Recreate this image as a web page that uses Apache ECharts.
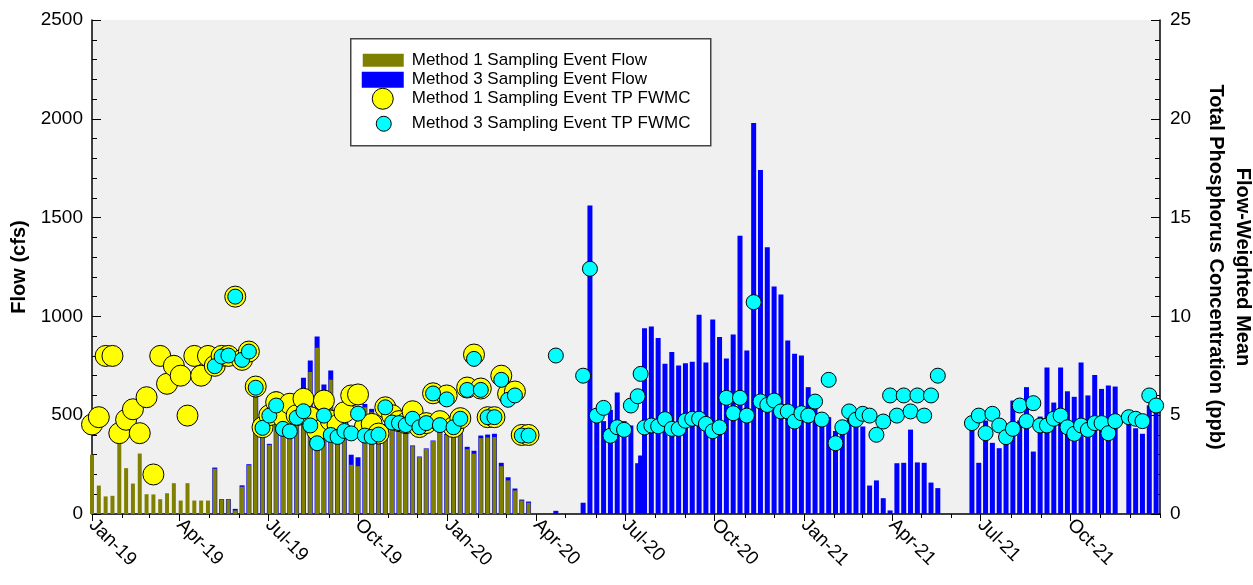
<!DOCTYPE html>
<html>
<head>
<meta charset="utf-8">
<script src="https://cdn.jsdelivr.net/npm/echarts@6/dist/echarts.min.js"></script>
<style>
  html, body { margin: 0; padding: 0; background: #ffffff; }
  #chart { width: 1253px; height: 585px; }
</style>
</head>
<body>
<div id="chart"></div>
<script>
// ---- weekly sampling event dates ----
const weeks = [
  '2019-01-01','2019-01-08','2019-01-15','2019-01-22','2019-01-29','2019-02-05','2019-02-12','2019-02-19','2019-02-26','2019-03-05',
  '2019-03-12','2019-03-19','2019-03-26','2019-04-02','2019-04-09','2019-04-16','2019-04-23','2019-04-30','2019-05-07','2019-05-14',
  '2019-05-21','2019-05-28','2019-06-04','2019-06-11','2019-06-18','2019-06-25','2019-07-02','2019-07-09','2019-07-16','2019-07-23',
  '2019-07-30','2019-08-06','2019-08-13','2019-08-20','2019-08-27','2019-09-03','2019-09-10','2019-09-17','2019-09-24','2019-10-01',
  '2019-10-08','2019-10-15','2019-10-22','2019-10-29','2019-11-05','2019-11-12','2019-11-19','2019-11-26','2019-12-03','2019-12-10',
  '2019-12-17','2019-12-24','2019-12-31','2020-01-07','2020-01-14','2020-01-21','2020-01-28','2020-02-04','2020-02-11','2020-02-18',
  '2020-02-25','2020-03-03','2020-03-10','2020-03-17','2020-03-24','2020-03-31','2020-04-07','2020-04-14','2020-04-21','2020-04-28',
  '2020-05-05','2020-05-12','2020-05-19','2020-05-26','2020-06-02','2020-06-09','2020-06-16','2020-06-23','2020-06-30','2020-07-07',
  '2020-07-14','2020-07-21','2020-07-28','2020-08-04','2020-08-11','2020-08-18','2020-08-25','2020-09-01','2020-09-08','2020-09-15',
  '2020-09-22','2020-09-29','2020-10-06','2020-10-13','2020-10-20','2020-10-27','2020-11-03','2020-11-10','2020-11-17','2020-11-24',
  '2020-12-01','2020-12-08','2020-12-15','2020-12-22','2020-12-29','2021-01-05','2021-01-12','2021-01-19','2021-01-26','2021-02-02',
  '2021-02-09','2021-02-16','2021-02-23','2021-03-02','2021-03-09','2021-03-16','2021-03-23','2021-03-30','2021-04-06','2021-04-13',
  '2021-04-20','2021-04-27','2021-05-04','2021-05-11','2021-05-18','2021-05-25','2021-06-01','2021-06-08','2021-06-15','2021-06-22',
  '2021-06-29','2021-07-06','2021-07-13','2021-07-20','2021-07-27','2021-08-03','2021-08-10','2021-08-17','2021-08-24','2021-08-31',
  '2021-09-07','2021-09-14','2021-09-21','2021-09-28','2021-10-05','2021-10-12','2021-10-19','2021-10-26','2021-11-02','2021-11-09',
  '2021-11-16','2021-11-23','2021-11-30','2021-12-07','2021-12-14','2021-12-21','2021-12-28'
];

// Method 1 flow (cfs), one value per week from 2019-01-01
const m1Flow = [
  300,144,89,92,363,232,154,306,100,99,
  75,105,156,68,156,68,68,68,229,72,
  72,18,138,247,591,397,350,600,540,560,
  590,633,718,841,621,679,510,480,249,242,
  540,515,450,440,430,420,405,343,288,330,
  369,410,400,410,420,328,305,384,387,389,
  242,170,119,68,57
];

// Method 3 flow (cfs)
const m3Flow = [
  null,null,null,null,null,null,null,null,null,null,
  null,null,null,null,null,null,null,null,235,75,
  75,26,145,252,600,405,355,620,560,580,
  610,689,777,898,655,726,530,500,300,287,
  557,532,470,455,440,430,410,347,291,332,
  372,420,405,415,425,340,320,397,402,406,
  259,186,129,73,63,null,null,null,16,null,
  null,null,57,1561,490,470,527,615,470,448,
  257,940,949,891,761,820,751,763,771,1008,
  767,984,896,787,908,1408,827,1979,1741,1350,
  1151,1111,878,811,802,642,590,490,490,420,
  450,480,473,443,144,170,80,18,257,259,
  427,261,259,159,131,null,null,null,null,465,
  259,473,360,333,406,574,473,642,316,493,
  741,564,741,621,593,767,600,704,633,650,
  645,null,498,434,406,550,550
];

// Method 1 TP FWMC (ppb)
const m1TP = [
  4.53,4.9,8.0,8.0,4.09,4.77,5.3,4.09,5.91,2.0,
  8.0,6.59,7.5,7.0,4.98,8.0,7.0,8.0,7.5,8.0,
  8.0,11.0,7.8,8.22,6.45,4.39,5.0,5.66,4.9,5.58,
  5.0,5.83,4.9,4.22,5.74,4.73,4.5,5.15,6.0,6.05,
  4.4,4.56,4.07,5.4,5.0,4.7,4.6,5.2,4.4,4.6,
  6.11,4.7,6.0,4.4,4.85,6.4,8.07,6.35,4.9,4.9,
  7.0,6.08,6.2,4.0,4.0
];

// Method 3 TP FWMC (ppb)
const m3TP = [
  null,null,null,null,null,null,null,null,null,null,
  null,null,null,null,null,null,null,null,7.48,7.97,
  8.02,11.0,7.8,8.22,6.39,4.36,4.98,5.49,4.31,4.18,
  4.87,5.2,4.48,3.58,4.98,4.0,3.9,4.2,4.08,5.08,
  3.97,3.9,4.02,5.4,4.63,4.6,4.5,4.82,4.39,4.6,
  6.1,4.5,5.8,4.39,4.82,6.28,7.85,6.28,4.9,4.9,
  6.79,5.78,6.0,3.97,3.97,null,null,null,8.02,null,
  null,null,7.0,12.41,4.98,5.37,3.96,4.39,4.26,5.49,
  5.96,4.38,4.48,4.44,4.8,4.31,4.31,4.72,4.82,4.82,
  4.56,4.19,4.39,5.88,5.1,5.88,4.98,10.72,5.7,5.52,
  5.74,5.19,5.19,4.68,5.1,4.98,5.69,4.78,6.79,3.58,
  4.39,5.19,4.77,5.07,4.98,4.01,4.68,6.0,4.98,6.0,
  5.19,6.0,4.98,6.0,7.0,null,null,null,null,4.6,
  4.98,4.09,5.07,4.48,3.89,4.31,5.49,4.7,5.61,4.48,
  4.48,4.82,4.98,4.39,4.06,4.48,4.26,4.6,4.6,4.09,
  4.7,null,4.9,4.82,4.7,6.0,5.49
];

// an extra Method 3 event within the week of 2020-07-14
const m3ExtraDates = ['2020-07-17'];
const m3ExtraFlow = [296];
const m3ExtraTP = [7.09];

// x-axis tick labels (quarters) and monthly minor ticks
const xTickDates = ['2019-01-01','2019-04-01','2019-07-01','2019-10-01','2020-01-01','2020-04-01','2020-07-01','2020-10-01','2021-01-01','2021-04-01','2021-07-01','2021-10-01'];
const xTickLabels = ['Jan-19','Apr-19','Jul-19','Oct-19','Jan-20','Apr-20','Jul-20','Oct-20','Jan-21','Apr-21','Jul-21','Oct-21'];
const monthDates = [
  '2019-01-01','2019-02-01','2019-03-01','2019-04-01','2019-05-01','2019-06-01','2019-07-01','2019-08-01','2019-09-01','2019-10-01','2019-11-01','2019-12-01',
  '2020-01-01','2020-02-01','2020-03-01','2020-04-01','2020-05-01','2020-06-01','2020-07-01','2020-08-01','2020-09-01','2020-10-01','2020-11-01','2020-12-01',
  '2021-01-01','2021-02-01','2021-03-01','2021-04-01','2021-05-01','2021-06-01','2021-07-01','2021-08-01','2021-09-01','2021-10-01','2021-11-01','2021-12-01',
  '2022-01-01'
];

const legendLabels = [
  'Method 1 Sampling Event Flow',
  'Method 3 Sampling Event Flow',
  'Method 1 Sampling Event TP FWMC',
  'Method 3 Sampling Event TP FWMC'
];

const FONT = 'Arial, "Liberation Sans", Helvetica, sans-serif';
const ts = s => echarts.number.parseDate(s).getTime();

function pairs(dates, vals) {
  const out = [];
  dates.forEach((d, i) => { if (vals[i] != null) out.push([ts(d), vals[i]]); });
  return out;
}

const m1FlowData = pairs(weeks, m1Flow);
const m3FlowData = pairs(weeks, m3Flow).concat(pairs(m3ExtraDates, m3ExtraFlow));
const m1TPData = pairs(weeks, m1TP);
const m3TPData = pairs(weeks, m3TP).concat(pairs(m3ExtraDates, m3ExtraTP));

const quarterTs = xTickDates.map(ts);
const monthTs = monthDates.map(ts);
const labelMap = {};
quarterTs.forEach((t, i) => { labelMap[t] = xTickLabels[i]; });

const X_MIN = ts('2019-01-01'), X_MAX = ts('2022-01-01');

const chart = echarts.init(document.getElementById('chart'), null, { renderer: 'canvas' });

const option = {
  animation: false,
  backgroundColor: '#ffffff',
  textStyle: { fontFamily: FONT },
  grid: {
    left: 92, right: 93, top: 20, bottom: 71,
    show: true, backgroundColor: '#f0f0f0', borderWidth: 0,
    containLabel: false, outerBoundsMode: 'none'
  },
  xAxis: [
    {
      type: 'value', min: X_MIN, max: X_MAX, position: 'bottom', scale: true,
      axisLine: { show: true, onZero: false, lineStyle: { color: '#000', width: 1.5 } },
      axisTick: { show: true, customValues: quarterTs, length: 7, lineStyle: { color: '#000', width: 1 } },
      axisLabel: {
        show: true, customValues: quarterTs, rotate: -45, margin: 8,
        fontSize: 19, color: '#000', fontFamily: FONT,
        formatter: v => labelMap[v] || ''
      },
      splitLine: { show: false }
    },
    {
      type: 'value', min: X_MIN, max: X_MAX, position: 'bottom', scale: true,
      axisLine: { show: false, onZero: false },
      axisTick: { show: true, customValues: monthTs, length: 4, lineStyle: { color: '#000', width: 1 } },
      axisLabel: { show: false },
      splitLine: { show: false }
    },
    {
      type: 'value', min: X_MIN, max: X_MAX, scale: true, show: false,
      axisLine: { onZero: false }, splitLine: { show: false }
    }
  ],
  yAxis: [
    {
      type: 'value', min: 0, max: 2500, interval: 500, position: 'left',
      name: 'Flow (cfs)', nameLocation: 'middle', nameGap: 62, nameRotate: 90,
      nameTextStyle: { fontWeight: 'bold', fontSize: 20, color: '#000', fontFamily: FONT },
      axisLine: { show: true, lineStyle: { color: '#000', width: 1.5 } },
      axisTick: { show: true, inside: true, length: 9, lineStyle: { color: '#000' } },
      minorTick: { show: true, splitNumber: 5, length: 5, lineStyle: { color: '#000' } },
      axisLabel: { fontSize: 19, color: '#000', margin: 9, fontFamily: FONT, formatter: v => String(v) },
      splitLine: { show: false }
    },
    {
      type: 'value', min: 0, max: 25, interval: 5, position: 'right',
      name: 'Flow-Weighted Mean\nTotal Phosphorus Concentration (ppb)',
      nameLocation: 'middle', nameGap: 37, nameRotate: -90,
      nameTextStyle: { fontWeight: 'bold', fontSize: 20, color: '#000', lineHeight: 27, fontFamily: FONT },
      axisLine: { show: true, lineStyle: { color: '#000', width: 1.5 } },
      axisTick: { show: true, inside: true, length: 9, lineStyle: { color: '#000' } },
      minorTick: { show: true, splitNumber: 5, length: 5, lineStyle: { color: '#000' } },
      axisLabel: { fontSize: 19, color: '#000', margin: 10, fontFamily: FONT, formatter: v => String(v) },
      splitLine: { show: false }
    }
  ],
  series: [
    {
      name: legendLabels[1], type: 'bar', xAxisIndex: 2, yAxisIndex: 0,
      data: m3FlowData, barWidth: 5,
      itemStyle: { color: '#0000ff' }
    },
    {
      name: legendLabels[0], type: 'bar', xAxisIndex: 0, yAxisIndex: 0,
      data: m1FlowData, barWidth: 4,
      itemStyle: { color: '#808000' }
    },
    {
      name: legendLabels[2], type: 'scatter', xAxisIndex: 0, yAxisIndex: 1,
      data: m1TPData, symbol: 'circle', symbolSize: 21,
      itemStyle: { color: '#ffff00', borderColor: '#000', borderWidth: 1, opacity: 1 }
    },
    {
      name: legendLabels[3], type: 'scatter', xAxisIndex: 0, yAxisIndex: 1,
      data: m3TPData, symbol: 'circle', symbolSize: 15,
      itemStyle: { color: '#00ffff', borderColor: '#000', borderWidth: 1, opacity: 1 }
    }
  ],
  graphic: [
    {
      type: 'group', left: 350, top: 38,
      children: [
        { type: 'rect', shape: { x: 0, y: 0, width: 360, height: 107 }, style: { fill: '#ffffff', stroke: '#444444', lineWidth: 1.5 } },
        { type: 'rect', shape: { x: 12, y: 15, width: 41, height: 13 }, style: { fill: '#808000' } },
        { type: 'rect', shape: { x: 11, y: 33, width: 42, height: 16 }, style: { fill: '#0000ff' } },
        { type: 'circle', shape: { cx: 32, cy: 60, r: 10.5 }, style: { fill: '#ffff00', stroke: '#000', lineWidth: 1 } },
        { type: 'circle', shape: { cx: 33, cy: 85, r: 7.5 }, style: { fill: '#00ffff', stroke: '#000', lineWidth: 1 } },
        { type: 'text', x: 61, y: 22, style: { text: legendLabels[0], font: '17px ' + FONT, fill: '#000', verticalAlign: 'middle' } },
        { type: 'text', x: 61, y: 41, style: { text: legendLabels[1], font: '17px ' + FONT, fill: '#000', verticalAlign: 'middle' } },
        { type: 'text', x: 61, y: 60, style: { text: legendLabels[2], font: '17px ' + FONT, fill: '#000', verticalAlign: 'middle' } },
        { type: 'text', x: 61, y: 85, style: { text: legendLabels[3], font: '17px ' + FONT, fill: '#000', verticalAlign: 'middle' } }
      ]
    }
  ]
};

chart.setOption(option);
</script>
</body>
</html>
